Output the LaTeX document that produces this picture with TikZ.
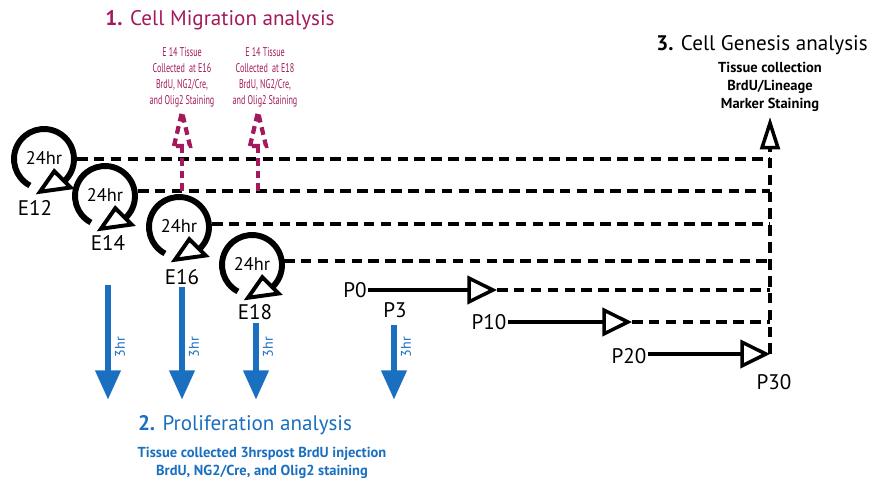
\documentclass[tikz,border=0pt]{standalone}
\usepackage{fontspec}
\setmainfont{PT Sans}
\newfontfamily\narrowfont[FakeStretch=0.64]{PT Sans}
\usetikzlibrary{positioning,calc,arrows.meta}

\definecolor{migr}{HTML}{A3195B}
\definecolor{prolif}{HTML}{1A6FC0}

\tikzset{
  cyclearc/.style={line width=4.2pt},
  cyclehead/.style={line width=2.8pt, line join=miter, fill=white},
  dashline/.style={line width=2.5pt, dash pattern=on 7.5pt off 4.5pt},
  migrline/.style={migr, line width=3pt, dash pattern=on 5.5pt off 3.5pt},
  postarrow/.style={line width=2.5pt, -{Triangle[open, length=21pt, width=20pt, line width=2.5pt]}},
  genarrow/.style={dashline, -{Triangle[open, length=23pt, width=14pt, line width=2.5pt]}},
  prolifarrow/.style={prolif, line width=4.8pt, -{Triangle[length=21pt, width=17pt]}},
  hrtext/.style={font=\fontsize{13}{13}\selectfont, inner sep=0pt},
  daylabel/.style={font=\fontsize{15}{15}\selectfont, inner sep=1pt},
  hrlabel/.style={prolif, font=\fontsize{10}{10}\selectfont, rotate=90, inner sep=0pt},
  titletext/.style={font=\fontsize{15}{15}\selectfont},
  migrnote/.style={migr, align=center, font=\narrowfont\fontsize{9}{11.3}\selectfont},
  boldnote/.style={align=center, font=\bfseries\fontsize{10.3}{13}\selectfont}
}

% one 24 hr cycle: #1 name, #2 centre
\newcommand{\daycycle}[2]{%
  \coordinate (#1) at #2;
  \draw[cyclearc] ([shift={(242:30)}]#1) arc[start angle=242, end angle=-48, radius=30];
  \draw[cyclehead] ([shift={(-50:16)}]#1) -- ([shift={(-47:39)}]#1) -- ([shift={(-97:33)}]#1) -- cycle;
  \node[hrtext] (#1-hr) at ([yshift=1pt]#1) {24hr};
}

\begin{document}
\begin{tikzpicture}[x=0.025cm, y=0.025cm]
\useasboundingbox (0,0) rectangle (873,483);

% 1. Cycles E12 - E18
\daycycle{c12}{(44,324)}
\daycycle{c14}{(105,287)}
\daycycle{c16}{(179,256)}
\daycycle{c18}{(252,218)}

\node[daylabel] (E12) at (35,275) {E12};
\node[daylabel] (E14) at (108,240) {E14};
\node[daylabel] (E16) at (182,206) {E16};
\node[daylabel] (E18) at (255,171) {E18};

% 2. Genesis line
\coordinate (g12) at (770,324);
\coordinate (g14) at (770,292);
\coordinate (g16) at (770,259);
\coordinate (g18) at (770,222);
\coordinate (gP0) at (770,193);
\coordinate (gP10) at (770,161);
\coordinate (gbot) at (770,129);
\coordinate (gtop) at (770,366);

\draw[dashline] ($(c12)+(33,0)$) -- (g12);
\draw[dashline] ($(c14)+(33,5)$) -- (g14);
\draw[dashline] ($(c16)+(33,3)$) -- (g16);
\draw[dashline] ($(c18)+(32,4)$) -- (g18);
\draw[genarrow] (gbot) -- (gtop);

% 3. Postnatal arrows
\node[daylabel] (P0) at (355,193) {P0};
\node[daylabel] (P3) at (395,173) {P3};
\node[daylabel] (P10) at (489,161) {P10};
\node[daylabel] (P20) at (629,127) {P20};
\node[daylabel] (P30) at (774,101) {P30};

\coordinate (p0tip) at (497,193);
\coordinate (p10tip) at (632,161);
\draw[postarrow] (P0) -- (p0tip);
\draw[postarrow] (P10) -- (p10tip);
\draw[postarrow] (P20.east |- gbot) -- (gbot);
\draw[dashline] (p0tip) -- (gP0);
\draw[dashline] (p10tip) -- (gP10);

% 4. Migration arrows (dashed, open head)
\foreach \mx/\nm in {182/a, 258/b}{
  \coordinate (m\nm) at (\mx,292);
  \coordinate (m\nm-base) at (\mx,337);
  \draw[migrline] (m\nm) -- (m\nm-base);
  \draw[migrline, line join=miter] (\mx-8,337) -- (\mx,371) -- (\mx+8,337) -- cycle;
}

% 5. Proliferation arrows
\foreach \bx/\by/\nm in {108/198/a, 182/196/b, 256/160/c, 394/158/d}{
  \coordinate (b\nm) at (\bx,\by);
  \coordinate (b\nm-end) at (\bx,83);
  \draw[prolifarrow] (b\nm) -- (b\nm-end);
  \node[hrlabel] (b\nm-hr) at (\bx+12,136) {3hr};
}

% 6. Titles and notes
\node[titletext, migr] (mtitle) at (220,463) {\textbf{1.} Cell Migration analysis};
\node[migrnote] (mnoteA) at (182,406) {E 14 Tissue\\Collected \ at E16\\BrdU, NG2/Cre,\\and Olig2 Staining};
\node[migrnote] (mnoteB) at (265,406) {E 14 Tissue\\Collected \ at E18\\BrdU, NG2/Cre,\\and Olig2 Staining};

\node[titletext] (gtitle) at (762,438) {\textbf{3.} Cell Genesis analysis};
\node[boldnote] (gnote) at (770,396) {Tissue collection\\BrdU/Lineage\\Marker Staining};

\node[titletext, prolif] (ptitle) at (245,58) {\textbf{2.} Proliferation analysis};
\node[boldnote, prolif] (pnote) at (262,20) {Tissue collected 3hrspost BrdU injection\\BrdU, NG2/Cre, and Olig2 staining};

\end{tikzpicture}
\end{document}
